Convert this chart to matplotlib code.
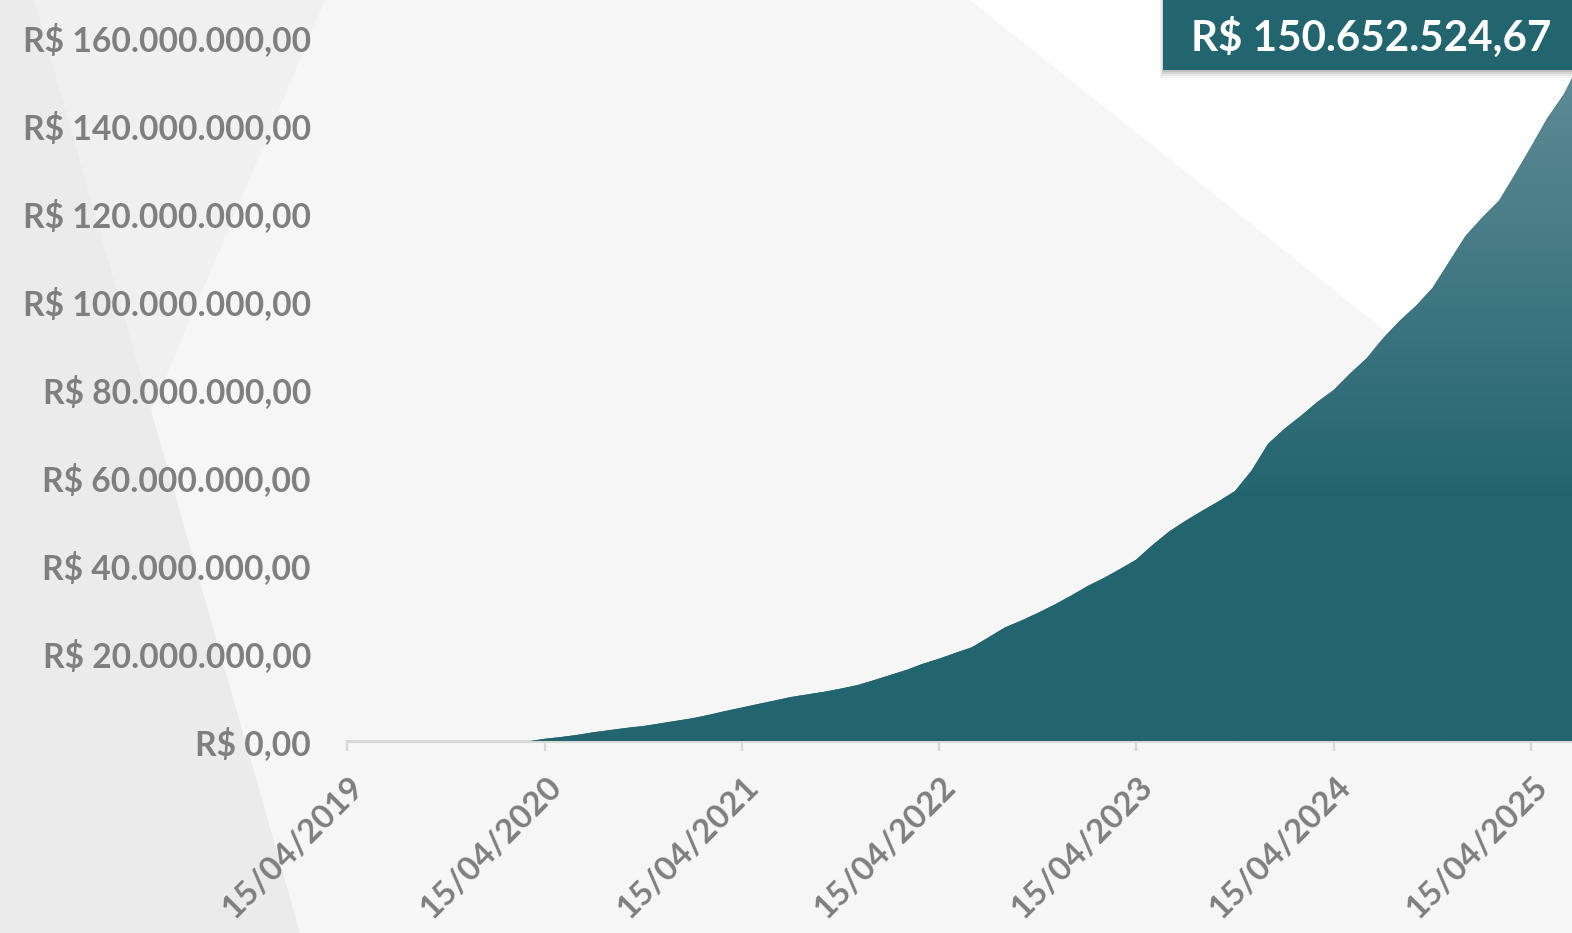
import numpy as np
import pandas as pd
import matplotlib
matplotlib.use('Agg')
import matplotlib.pyplot as plt
import matplotlib.dates as mdates
from matplotlib.ticker import FuncFormatter, FixedLocator
from matplotlib.patches import Polygon, Rectangle
import matplotlib.transforms as mtransforms
from matplotlib.colors import to_rgb

# ---------------- data ----------------
start_date = '2020-03-20'
start_value_mi = 0.0
monthly_values_mi = [
    0.5, 0.9, 1.4, 2.0, 2.5, 3.0, 3.4, 4.0, 4.6,                       # 2020-04 .. 2020-12
    5.2, 6.0, 6.8, 7.6, 8.4, 9.2, 10.0, 10.6, 11.2, 11.9, 12.7, 13.8,  # 2021
    15.0, 16.2, 17.5, 18.7, 20.0, 21.3, 23.5, 25.8, 27.4, 29.1, 31.0, 33.0,  # 2022
    35.2, 37.1, 39.0, 41.2, 44.5, 47.6, 50.0, 52.3, 54.5, 56.8, 61.5, 67.5,  # 2023
    71.0, 74.0, 77.0, 79.8, 83.5, 87.0, 91.5, 95.5, 99.0, 103.0, 109.0, 114.8,  # 2024
    119.0, 122.8, 128.5, 135.0, 141.5, 147.0,                           # 2025-01 .. 2025-06
]
monthly_start = '2020-04-15'
end_date = '2025-06-30'
final_value = 150652524.67

x_tick_dates = ['2019-04-15', '2020-04-15', '2021-04-15', '2022-04-15',
                '2023-04-15', '2024-04-15', '2025-04-15']
y_tick_values = [0, 20e6, 40e6, 60e6, 80e6, 100e6, 120e6, 140e6, 160e6]
x_min_date = '2019-04-15'

# ---------------- build series ----------------
monthly_dates = pd.date_range(monthly_start, periods=len(monthly_values_mi),
                              freq=pd.DateOffset(months=1))
dates = [pd.Timestamp(start_date)] + list(monthly_dates) + [pd.Timestamp(end_date)]
values = np.array([start_value_mi * 1e6] + [v * 1e6 for v in monthly_values_mi] + [final_value])
xnum = mdates.date2num(dates)

# ---------------- style ----------------
W, H = 1572, 933
TEAL = '#23656f'
LIGHT = '#5d8a94'
GRAY_TXT = '#7f7f7f'
AX_GRAY = '#d9d9d9'
FONT = 'Lato'
plt.rcParams['font.family'] = [FONT, 'DejaVu Sans']
plt.rcParams['font.weight'] = 'bold'

def brl(v):
    s = f'{v:,.2f}'
    s = s.replace(',', 'X').replace('.', ',').replace('X', '.')
    return 'R$ ' + s

fig = plt.figure(figsize=(W / 100, H / 100), dpi=100)
fig.patch.set_facecolor('#f6f6f6')

def fx(px):
    return px / W

def fy(py):
    return 1 - py / H

# background shapes
bg = [
    ([(0, 0), (325, 0), (0, 770)], '#f0f0f0'),
    ([(0, 0), (34, 0), (300, 933), (0, 933)], '#ebebeb'),
    ([(970, 0), (W, 0), (W, 480)], '#ffffff'),
]
for pts, col in bg:
    fig.patches.append(Polygon([(fx(a), fy(b)) for a, b in pts], closed=True,
                               transform=fig.transFigure, facecolor=col,
                               edgecolor='none', zorder=-10))

ax = fig.add_axes([fx(347), fy(741), fx(W) - fx(347), fy(37) - fy(741)])
ax.set_facecolor('none')
ax.set_zorder(1)

x0 = mdates.date2num(pd.Timestamp(x_min_date))
x1 = mdates.date2num(pd.Timestamp(end_date))
ax.set_xlim(x0, x1)
ax.set_ylim(0, 160e6)

poly = ax.fill_between(xnum, 0, values, facecolor=TEAL, edgecolor='none', zorder=2)

# vertical gradient clipped to the area
n = 400
yy = np.linspace(160e6, 0, n)
t = np.clip((yy - 55e6) / (150e6 - 55e6), 0, 1)
c0 = np.array(to_rgb(TEAL))
c1 = np.array(to_rgb(LIGHT))
img = (c0[None, :] * (1 - t[:, None]) + c1[None, :] * t[:, None])[:, None, :]
im = ax.imshow(img, extent=[x0, x1, 0, 160e6], aspect='auto', zorder=3,
               interpolation='bilinear')
path = poly.get_paths()[0]
im.set_clip_path(path, transform=ax.transData)

# axes styling
for s in ['left', 'right', 'top']:
    ax.spines[s].set_visible(False)
ax.spines['bottom'].set_color(AX_GRAY)
ax.spines['bottom'].set_linewidth(2.2)
ax.spines['bottom'].set_zorder(1)

ax.xaxis.set_major_locator(FixedLocator(mdates.date2num(pd.to_datetime(x_tick_dates))))
ax.xaxis.set_major_formatter(mdates.DateFormatter('%d/%m/%Y'))
ax.yaxis.set_major_locator(FixedLocator(y_tick_values))
ax.yaxis.set_major_formatter(FuncFormatter(lambda v, p: brl(v)))

ax.tick_params(axis='y', length=0, pad=26, labelsize=24.2, labelcolor=GRAY_TXT)
ax.tick_params(axis='x', length=7.5, width=1.6, color=AX_GRAY, direction='out',
               pad=14, labelsize=24, labelcolor=GRAY_TXT)
for lab in ax.get_yticklabels():
    lab.set_fontweight('bold')
offset = mtransforms.ScaledTranslation(2 / 100, 0, fig.dpi_scale_trans)
for lab in ax.get_xticklabels():
    lab.set_fontweight('bold')
    lab.set_rotation(45)
    lab.set_ha('right')
    lab.set_va('top')
    lab.set_rotation_mode('anchor')
    lab.set_transform(lab.get_transform() + offset)

# annotation box with the latest value
for i, a in enumerate([0.10, 0.07, 0.05, 0.03, 0.015]):
    fig.patches.append(Rectangle((fx(1163 - i), fy(72 + 2 * i)), fx(W + 20) - fx(1163 - i),
                                 fy(0) - fy(72 + 2 * i) + 0.01, transform=fig.transFigure,
                                 facecolor='black', alpha=a, edgecolor='none', zorder=5))
fig.patches.append(Rectangle((fx(1163), fy(70)), fx(W + 20) - fx(1163), fy(0) - fy(70) + 0.01,
                             transform=fig.transFigure, facecolor=TEAL, edgecolor='none',
                             zorder=6))
fig.text(fx(1371), fy(37), brl(values[-1]), color='white', fontsize=30.3,
         fontweight='bold', ha='center', va='center', zorder=7)

fig.savefig('out.png', dpi=100, facecolor=fig.get_facecolor())
